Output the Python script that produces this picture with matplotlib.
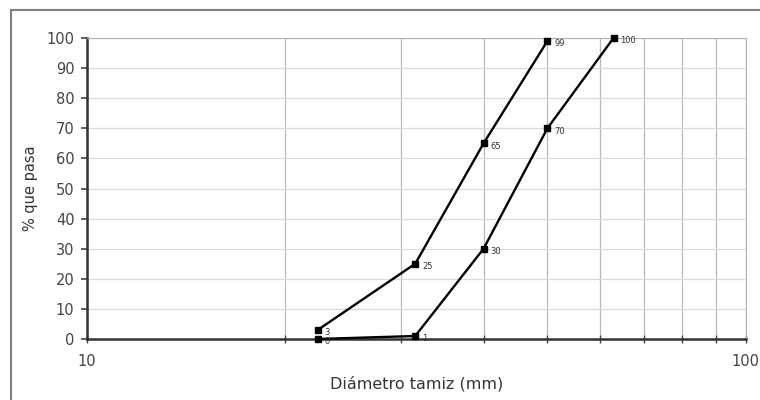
import matplotlib.pyplot as plt
from matplotlib.ticker import FixedLocator, NullFormatter
from matplotlib.patches import Rectangle

plt.rcParams['font.family'] = ['DejaVu Sans']

# tamices (mm) y % que pasa
tamiz_a = [22.4, 31.5, 40, 50]
pasa_a = [3, 25, 65, 99]
tamiz_b = [22.4, 31.5, 40, 50, 63]
pasa_b = [0, 1, 30, 70, 100]

fig = plt.figure(figsize=(7.6, 4), dpi=100)
ax = fig.add_axes([87 / 760, 1 - 339 / 400, (745.7 - 87) / 760, (339 - 38) / 400])

# marco exterior del grafico
fig.patches.append(Rectangle((11 / 760, -0.1), 1.2, 1 - 10 / 400 + 0.1,
                             transform=fig.transFigure, fill=False,
                             edgecolor='#808080', lw=1.5))

for xs, ys in [(tamiz_a, pasa_a), (tamiz_b, pasa_b)]:
    ax.plot(xs, ys, color='black', lw=1.7, marker='s', ms=4.5, zorder=3, clip_on=False)
    for x, y in zip(xs, ys):
        ax.annotate(str(y), (x, y), xytext=(5, -2), textcoords='offset points',
                    fontsize=6, color='#333333', va='center')

ax.set_xscale('log')
ax.set_xlim(10, 100)
ax.set_ylim(0, 100)
ax.xaxis.set_major_locator(FixedLocator([10, 100]))
ax.xaxis.set_minor_locator(FixedLocator([20, 30, 40, 50, 60, 70, 80, 90]))
ax.xaxis.set_minor_formatter(NullFormatter())
ax.set_xticklabels(['10', '100'])
ax.set_yticks(range(0, 101, 10))

ax.grid(True, which='both', axis='x', color='#b8b8b8', lw=0.9)
ax.grid(True, which='major', axis='y', color='#dadada', lw=0.9)
ax.set_axisbelow(True)

for s in ['top', 'right']:
    ax.spines[s].set_color('#b0b0b0')
for s in ['left', 'bottom']:
    ax.spines[s].set_color('#333333')
    ax.spines[s].set_linewidth(1.8)

ax.tick_params(axis='y', which='major', length=4, width=1.2, labelsize=10.5, pad=5, colors='#444444')
ax.tick_params(axis='x', which='both', direction='inout', length=6, width=1.0, labelsize=10.5,
               pad=8, colors='#444444')

ax.set_ylabel('% que pasa', fontsize=10.5, labelpad=6, color='#333333')
ax.set_xlabel('Diámetro tamiz (mm)', fontsize=11.5, labelpad=5, color='#333333')

fig.savefig('out.png', dpi=100)
